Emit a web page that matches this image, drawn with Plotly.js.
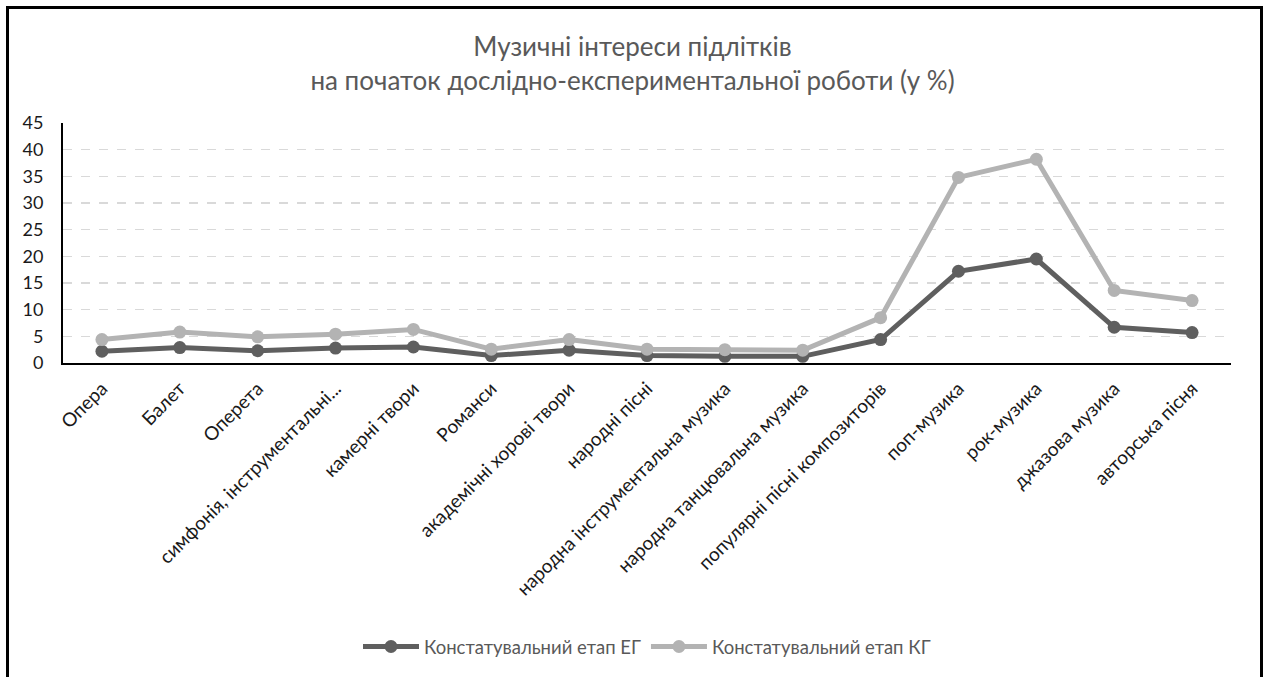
<!DOCTYPE html>
<html>
<head>
<meta charset="utf-8">
<script src="https://cdn.plot.ly/plotly-3.0.1.min.js"></script>
<style>
  html, body { margin: 0; padding: 0; background: #fff; }
  #wrap { position: relative; width: 1265px; height: 677px; overflow: hidden; }
  #frame { position: absolute; left: 6px; top: 6px; width: 1257px; height: 700px; border: 3px solid #000; box-sizing: border-box; pointer-events: none; z-index: 5; }
  #chart { position: absolute; left: 0; top: 0; width: 1265px; height: 677px; }
</style>
</head>
<body>
<div id="wrap">
  <div id="chart"></div>
  <div id="frame"></div>
</div>
<script>
const categories = [
  "Опера", "Балет", "Оперета", "симфонія, інструментальні...", "камерні твори",
  "Романси", "академічні хорові твори", "народні пісні", "народна інструментальна музика",
  "народна танцювальна музика", "популярні пісні композиторів", "поп-музика",
  "рок-музика", "джазова музика", "авторська пісня"
];
const seriesNames = ["Констатувальний етап ЕГ", "Констатувальний етап КГ"];
const valuesEG = [2.2, 2.9, 2.3, 2.8, 3.0, 1.4, 2.4, 1.4, 1.25, 1.25, 4.4, 17.2, 19.5, 6.7, 5.7];
const valuesKG = [4.4, 5.8, 4.9, 5.4, 6.3, 2.6, 4.4, 2.6, 2.5, 2.4, 8.5, 34.8, 38.2, 13.6, 11.7];
const yTicks = [0, 5, 10, 15, 20, 25, 30, 35, 40, 45];

const FONT = "Lato, 'Open Sans', sans-serif";

const traces = [
  { x: categories, y: valuesEG, name: seriesNames[0], type: "scatter", mode: "lines+markers",
    line: { color: "#5f5f5f", width: 5 }, marker: { color: "#5f5f5f", size: 13 } },
  { x: categories, y: valuesKG, name: seriesNames[1], type: "scatter", mode: "lines+markers",
    line: { color: "#b3b3b3", width: 5 }, marker: { color: "#b3b3b3", size: 13 } }
];

const layout = {
  width: 1265, height: 677,
  margin: { l: 63, r: 34, t: 123, b: 314, autoexpand: false },
  paper_bgcolor: "#fff", plot_bgcolor: "#fff",
  font: { family: FONT, color: "#000", size: 17 },
  title: {
    text: "Музичні інтереси підлітків<br>на початок дослідно-експериментальної роботи (у %)",
    font: { family: FONT, size: 26, color: "#595959" },
    xref: "container", x: 0.5, xanchor: "center",
    yref: "container", y: 1 - 56/677, yanchor: "top"
  },
  xaxis: {
    type: "category", range: [-0.5, 14.5],
    showline: true, linecolor: "#000", linewidth: 2,
    showgrid: false, zeroline: false, ticks: "", ticklabelstandoff: 5,
    tickangle: -45, tickfont: { family: FONT, size: 19, color: "#1a1a1a" },
    automargin: false
  },
  yaxis: {
    range: [0, 45], tickvals: yTicks, ticktext: yTicks.map(String),
    showline: true, linecolor: "#000", linewidth: 2,
    showgrid: true, gridcolor: "#d9d9d9", gridwidth: 1.5, griddash: "dash",
    zeroline: false, ticks: "", ticklabelstandoff: 14,
    tickfont: { family: FONT, size: 18, color: "#1a1a1a" },
    automargin: false
  },
  showlegend: true,
  legend: {
    orientation: "h", x: 0.5, xanchor: "center",
    y: (363 - 647) / 240, yanchor: "middle",
    font: { family: FONT, size: 18.5, color: "#595959" },
    bgcolor: "rgba(0,0,0,0)", itemwidth: 56
  }
};

Plotly.newPlot("chart", traces, layout, { staticPlot: true, displayModeBar: false });
</script>
</body>
</html>
